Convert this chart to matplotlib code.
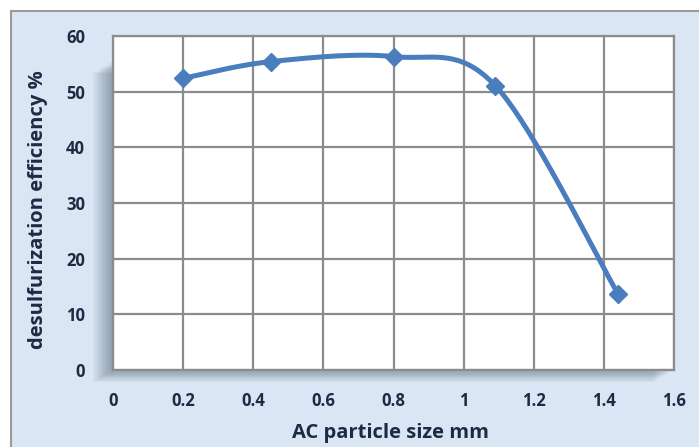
import numpy as np
import matplotlib.pyplot as plt
from matplotlib.patches import Rectangle

particle_size = [0.2, 0.45, 0.8, 1.09, 1.44]
efficiency = [52.4, 55.4, 56.3, 51.1, 13.7]
x_ticks = [0, 0.2, 0.4, 0.6, 0.8, 1, 1.2, 1.4, 1.6]
x_labels = ['0', '0.2', '0.4', '0.6', '0.8', '1', '1.2', '1.4', '1.6']
y_ticks = [0, 10, 20, 30, 40, 50, 60]

LINE_COLOR = '#4a7dbd'
TEXT_COLOR = '#1c2a44'
GRID_COLOR = '#8c8c8c'
FONT = 'Open Sans'


def smooth_curve(xs, ys, n=40):
    # Catmull-Rom style smoothing, similar to spreadsheet "smoothed line"
    pts = np.column_stack([xs, ys]).astype(float)
    pts = np.vstack([pts[0], pts, pts[-1]])
    out = []
    for i in range(1, len(pts) - 2):
        p0, p1, p2, p3 = pts[i - 1], pts[i], pts[i + 1], pts[i + 2]
        c1 = p1 + (p2 - p0) / 6
        c2 = p2 - (p3 - p1) / 6
        t = np.linspace(0, 1, n)[:, None]
        seg = ((1 - t) ** 3) * p1 + 3 * ((1 - t) ** 2) * t * c1 + 3 * (1 - t) * t ** 2 * c2 + t ** 3 * p2
        out.append(seg)
    out = np.vstack(out)
    return out[:, 0], out[:, 1]


fig = plt.figure(figsize=(6.99, 4.47), dpi=100)
fig.patch.set_facecolor('white')

W, H = 699, 447
# chart area background with border
fig.patches.append(Rectangle((11 / W, -0.05), 1.1, (447 - 11) / H + 0.05, transform=fig.transFigure,
                             facecolor='#dae6f3', edgecolor='#9a9a9a', linewidth=1.5, zorder=0))

left, right, top, bottom = 113, 674, 36, 370
ax = fig.add_axes([left / W, 1 - bottom / H, (right - left) / W, (bottom - top) / H])
ax.set_zorder(2)

# soft shadow on the left and bottom of the plot area
for k in range(10):
    off = 2 + k * 2
    fig.patches.append(Rectangle(((left - off) / W, 1 - (bottom + off * 0.6) / H),
                                 (right - left) / W, (bottom - top - 25) / H,
                                 transform=fig.transFigure, facecolor='#3a4a60',
                                 edgecolor='none', alpha=0.05, zorder=0.5))

ax.set_facecolor('white')
sx, sy = smooth_curve(particle_size, efficiency)
ax.plot(sx, sy, color=LINE_COLOR, linewidth=3.6, solid_capstyle='round', zorder=3)
ax.plot(particle_size, efficiency, linestyle='none', marker='D', markersize=9,
        color=LINE_COLOR, zorder=4)

ax.set_xlim(0, 1.6)
ax.set_ylim(0, 60)
ax.set_xticks(x_ticks)
ax.set_xticklabels(x_labels)
ax.set_yticks(y_ticks)
ax.grid(True, color=GRID_COLOR, linewidth=1.6)
ax.set_axisbelow(True)
for s in ax.spines.values():
    s.set_color(GRID_COLOR)
    s.set_linewidth(1.6)
ax.tick_params(length=0, labelsize=12, labelcolor=TEXT_COLOR)
ax.tick_params(axis='x', pad=16)
ax.tick_params(axis='y', pad=20)
for lab in ax.get_xticklabels() + ax.get_yticklabels():
    lab.set_fontweight('bold')
    lab.set_fontfamily(FONT)

fig.text((left + right) / 2 / W - 0.005, 1 - 433 / H, 'AC particle size mm', fontsize=14.5,
         fontweight='bold', color=TEXT_COLOR, fontfamily=FONT, ha='center', va='center')
fig.text(38 / W, 1 - ((top + bottom) / 2 + 7) / H, 'desulfurization efficiency %', fontsize=14.5,
         fontweight='bold', color=TEXT_COLOR, fontfamily=FONT, ha='center', va='center',
         rotation=90)

fig.savefig('out.png', dpi=100)
